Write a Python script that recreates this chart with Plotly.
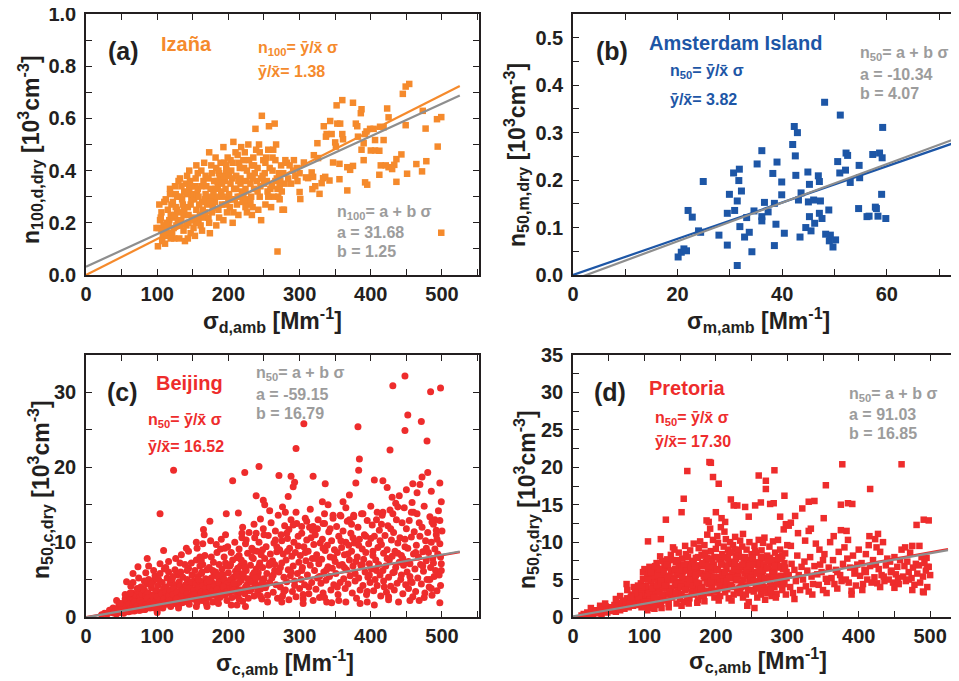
import plotly.graph_objects as go

# ---------------- data ----------------
# (a) Izaña : sigma_d,amb [Mm-1] vs n100,d,dry [10^3 cm-3]
izana_pts = [
 (102,0.18),(104,0.21),(101,0.11),(106,0.24),(108,0.15),(103,0.27),(109,0.19),(105,0.22),(107,0.13),(110,0.28),(99,0.18),
 (111,0.12),(113,0.17),(115,0.25),(112,0.29),(117,0.21),(118,0.33),(114,0.15),(119,0.23),(116,0.19),(120,0.27),(118,0.31),
 (121,0.16),(123,0.22),(125,0.34),(122,0.28),(127,0.19),(128,0.25),(124,0.14),(126,0.31),(129,0.21),(130,0.36),(126,0.26),(123,0.18),
 (131,0.14),(133,0.24),(135,0.29),(132,0.37),(137,0.17),(138,0.32),(134,0.21),(136,0.27),(139,0.13),(140,0.35),(137,0.23),(133,0.30),
 (141,0.19),(143,0.26),(145,0.33),(142,0.38),(147,0.16),(148,0.29),(144,0.23),(146,0.36),(149,0.21),(150,0.31),(143,0.14),(147,0.27),(145,0.40),
 (151,0.18),(153,0.34),(155,0.25),(152,0.29),(157,0.39),(158,0.21),(154,0.37),(156,0.31),(159,0.27),(160,0.23),(153,0.15),(157,0.33),(155,0.42),
 (161,0.19),(163,0.28),(165,0.36),(162,0.40),(167,0.24),(168,0.31),(164,0.22),(166,0.43),(169,0.34),(170,0.27),(163,0.17),(168,0.38),
 (171,0.29),(173,0.47),(175,0.33),(172,0.22),(177,0.39),(178,0.26),(174,0.16),(176,0.42),(179,0.31),(180,0.36),(173,0.20),(177,0.24),
 (181,0.28),(183,0.41),(185,0.34),(182,0.45),(187,0.22),(188,0.37),(184,0.30),(186,0.25),(189,0.43),(190,0.32),(183,0.19),(187,0.39),
 (191,0.27),(193,0.49),(195,0.36),(192,0.30),(197,0.42),(198,0.24),(194,0.38),(196,0.33),(199,0.45),(200,0.29),(193,0.21),(197,0.40),
 (201,0.31),(203,0.44),(205,0.37),(202,0.26),(207,0.51),(208,0.33),(204,0.40),(206,0.20),(209,0.29),(210,0.47),(203,0.35),(207,0.24),
 (211,0.38),(213,0.30),(215,0.43),(212,0.27),(217,0.35),(218,0.49),(214,0.23),(216,0.41),(219,0.32),(220,0.28),(213,0.46),(217,0.37),
 (221,0.31),(223,0.47),(225,0.36),(222,0.41),(227,0.27),(228,0.50),(224,0.33),(226,0.24),(229,0.44),(230,0.38),(223,0.29),
 (231,0.35),(233,0.42),(235,0.45),(232,0.30),(237,0.39),(238,0.56),(234,0.26),(236,0.33),(239,0.48),(240,0.36),(233,0.23),
 (241,0.41),(243,0.50),(245,0.34),(242,0.25),(247,0.61),(248,0.38),(244,0.30),(246,0.21),(249,0.44),(250,0.35),(244,0.47),
 (251,0.39),(253,0.45),(255,0.32),(252,0.27),(257,0.57),(258,0.41),(254,0.36),(256,0.48),(259,0.33),(260,0.26),
 (261,0.34),(263,0.48),(265,0.58),(262,0.40),(267,0.50),(268,0.37),(264,0.30),(266,0.44),(269,0.33),(270,0.30),
 (271,0.39),(273,0.36),(275,0.32),(272,0.29),(277,0.39),(278,0.25),(274,0.42),(276,0.25),(279,0.35),(280,0.44),
 (282,0.43),(286,0.42),(291,0.40),(294,0.38),(297,0.36),(300,0.39),(288,0.35),(284,0.37),(292,0.44),(296,0.41),(269,0.09),
 (125,0.23),(132,0.19),(138,0.25),(142,0.31),(148,0.34),(152,0.22),(158,0.30),(162,0.34),(167,0.29),(172,0.37),
 (176,0.30),(182,0.33),(186,0.40),(191,0.35),(196,0.27),(201,0.38),(206,0.43),(211,0.33),(216,0.30),(221,0.44),
 (226,0.40),(231,0.28),(236,0.42),(241,0.32),(246,0.37),(252,0.43),(256,0.30),(262,0.45),(266,0.36),(272,0.34),
 (128,0.30),(134,0.34),(144,0.20),(154,0.20),(164,0.25),(174,0.28),(184,0.36),(194,0.43),(204,0.29),(214,0.36),
 (224,0.26),(234,0.37),(119,0.14),(113,0.20),(106,0.17),
 (352,0.65),(360,0.67),(375,0.66),(386,0.62),(387,0.635),(334,0.57),(343,0.59),(353,0.58),(357,0.58),(360,0.54),(361,0.52),
 (338,0.54),(337,0.53),(345,0.54),(379,0.58),(381,0.57),(382,0.53),(394,0.55),(399,0.56),(404,0.56),(392,0.54),(390,0.505),
 (387,0.48),(390,0.44),(392,0.355),(395,0.346),(400,0.477),(406,0.477),(412,0.476),(406,0.517),(413,0.568),(418,0.566),
 (423,0.638),(425,0.604),(418,0.517),(414,0.42),(412,0.384),(421,0.42),(425,0.413),(430,0.406),(433,0.422),(436,0.444),
 (436,0.357),(443,0.462),(445,0.694),(449,0.722),(454,0.732),(449,0.574),(451,0.388),(464,0.425),(472,0.397),(473,0.629),
 (477,0.561),(478,0.436),(494,0.492),(493,0.597),(499,0.605),(499,0.162),(325,0.505),(333,0.371),(331,0.352),(336,0.376),
 (342,0.362),(347,0.431),(356,0.426),(356,0.367),(367,0.324),(367,0.413),(371,0.403),(375,0.418),(350,0.508),(351,0.492),
 (312,0.371),(319,0.376),(318,0.329),(322,0.34),(328,0.311),(320,0.459),(326,0.448),(306,0.431),(300,0.318),(301,0.291),
 (309,0.374),(317,0.393),
]
izana_ratio = 1.38          # y/x  [cm-3 per Mm-1]
izana_fit = (31.68, 1.25)   # a [cm-3], b

# (b) Amsterdam Island : sigma_m,amb vs n50,m,dry
amsterdam_pts = [
 (20.1,0.038),(20.7,0.048),(21.2,0.055),(21.7,0.051),(22.0,0.136),(22.8,0.122),(24.0,0.093),(24.4,0.090),(24.9,0.197),
 (27.9,0.084),(29.5,0.063),(29.5,0.130),(29.9,0.170),(30.7,0.215),(30.9,0.136),(31.4,0.156),(31.4,0.020),(31.7,0.199),
 (31.8,0.223),(31.9,0.102),(32.2,0.177),(32.8,0.080),(33.2,0.121),(33.7,0.090),(34.2,0.049),(34.6,0.135),(35.2,0.234),
 (36.1,0.262),(36.1,0.123),(36.1,0.114),(36.6,0.153),(37.3,0.133),(38.2,0.214),(38.5,0.151),(38.5,0.062),(38.8,0.107),
 (39.0,0.238),(39.9,0.196),(39.9,0.169),(40.4,0.088),(42.0,0.275),(42.3,0.313),(42.5,0.251),(42.6,0.210),(42.9,0.300),
 (43.1,0.158),(43.4,0.080),(43.6,0.173),(44.5,0.100),(44.9,0.217),(45.0,0.154),(45.2,0.191),(45.2,0.123),(45.5,0.093),
 (46.0,0.158),(46.2,0.109),(46.9,0.209),(47.1,0.197),(47.1,0.130),(47.3,0.156),(47.6,0.119),(48.1,0.364),(48.3,0.086),
 (48.9,0.137),(49.0,0.072),(49.2,0.084),(49.7,0.059),(50.2,0.074),(50.6,0.239),(51.1,0.337),(51.0,0.215),(52.1,0.221),
 (52.2,0.257),(52.5,0.252),(53.0,0.195),(54.6,0.140),(54.7,0.231),(54.8,0.205),(56.2,0.123),(56.6,0.124),(57.3,0.254),
 (57.8,0.143),(58.0,0.140),(58.3,0.124),(58.6,0.257),(59.0,0.170),(59.1,0.247),(59.2,0.311),(59.8,0.119),
]
amsterdam_ratio = 3.82
amsterdam_fit = (-10.34, 4.07)

# (c) Beijing : sigma_c,amb vs n50,c,dry
beijing_pts = [
 (22,0.3),(26,0.5),(30,0.4),(33,0.9),(36,0.6),(38,1.2),(40,0.5),(42,1.0),(44,0.8),(46,1.5),(48,0.6),(49,1.1),
 (51,0.9),(52,1.8),(53,0.5),(54,1.3),(55,2.4),(56,0.8),(57,1.6),(58,1.1),(59,2.0),(60,0.7),
 (61,1.4),(62,2.6),(63,0.9),(64,1.9),(65,3.2),(66,1.2),(67,2.3),(68,0.8),(69,1.6),(70,2.9),(66,4.6),(63,4.1),
 (71,1.1),(72,2.0),(73,3.4),(74,1.5),(75,2.6),(76,0.9),(77,4.0),(78,1.8),(79,3.0),(80,1.3),(74,5.2),
 (81,2.2),(82,3.6),(83,1.0),(84,2.8),(85,4.4),(86,1.6),(87,3.2),(88,5.0),(89,2.0),(90,1.2),(88,6.8),(84,5.9),
 (91,2.6),(92,3.9),(93,1.4),(94,4.8),(95,3.0),(96,1.9),(97,5.5),(98,2.3),(99,3.5),(100,1.0),(95,6.2),
 (101,4.2),(102,2.8),(103,1.5),(104,5.8),(105,3.3),(106,2.1),(107,4.6),(108,1.2),(109,3.8),(110,6.4),(104,7.1),
 (111,2.5),(112,4.0),(113,1.7),(114,5.2),(115,3.1),(116,6.0),(117,2.0),(118,4.5),(119,1.4),(120,3.6),(116,7.4),
 (121,5.0),(122,2.7),(123,3.9),(124,1.8),(125,6.3),(126,4.3),(127,2.3),(128,5.6),(129,3.2),(130,1.5),(126,7.8),
 (131,4.7),(132,2.5),(133,6.0),(134,3.5),(135,1.9),(136,5.3),(137,4.0),(138,2.9),(139,7.0),(140,3.3),(134,8.3),
 (141,2.2),(142,5.0),(143,3.8),(144,6.5),(145,1.7),(146,4.4),(147,2.9),(148,7.2),(149,5.6),(150,3.6),(144,8.8),
 (151,2.4),(152,4.8),(153,6.2),(154,3.2),(155,7.6),(156,1.9),(157,5.4),(158,4.1),(159,2.8),(160,6.8),(156,9.2),
 (161,3.6),(162,5.8),(163,2.2),(164,7.0),(165,4.5),(166,3.0),(167,8.2),(168,5.1),(169,1.8),(170,6.3),(164,9.8),
 (171,4.0),(172,2.6),(173,6.6),(174,5.0),(175,3.4),(176,8.0),(177,4.6),(178,2.0),(179,7.3),(180,5.7),(175,10.2),
 (181,3.2),(182,6.0),(183,4.3),(184,8.6),(185,2.5),(186,5.3),(187,7.0),(188,3.8),(189,9.1),(190,4.8),(186,1.8),
 (191,6.4),(192,2.9),(193,5.6),(194,8.0),(195,3.6),(196,7.2),(197,4.4),(198,2.2),(199,9.4),(200,5.9),(196,11.0),
 (201,3.3),(202,6.8),(203,4.9),(204,8.6),(205,2.6),(206,7.6),(207,5.3),(208,3.9),(209,10.0),(210,6.1),(204,1.6),
 (211,4.2),(212,7.9),(213,2.8),(214,5.9),(215,9.1),(216,3.6),(217,6.8),(218,4.9),(219,10.6),(220,2.1),(215,8.2),
 (221,5.4),(222,7.2),(223,3.1),(224,9.8),(225,6.2),(226,4.3),(227,8.5),(228,2.5),(229,11.3),(230,5.0),(224,1.4),
 (231,6.9),(232,3.7),(233,9.2),(234,5.6),(235,7.8),(236,2.8),(237,10.6),(238,4.5),(239,6.4),(240,8.8),(236,12.4),
 (241,3.4),(242,5.9),(243,10.0),(244,7.2),(245,4.1),(246,8.3),(247,2.4),(248,6.6),(249,11.8),(250,5.1),(245,13.1),
 (251,7.8),(252,3.9),(253,9.4),(254,5.8),(255,2.9),(256,10.9),(257,6.9),(258,4.6),(259,8.4),(260,12.6),(255,2.0),
 (261,5.2),(262,7.5),(263,3.3),(264,9.9),(265,6.2),(266,11.5),(267,4.3),(268,8.7),(269,2.5),(270,13.6),(265,7.0),
 (271,6.0),(272,9.0),(273,4.0),(274,11.0),(275,7.2),(276,2.8),(277,8.4),(278,5.3),(279,12.2),(280,3.6),(275,10.2),
 (281,7.6),(282,4.7),(283,10.5),(284,6.3),(285,2.3),(286,9.2),(287,5.5),(288,13.0),(289,8.1),(290,3.4),(285,11.7),
 (291,6.8),(292,10.0),(293,4.2),(294,8.6),(295,2.7),(296,12.5),(297,5.8),(298,9.5),(299,7.3),(300,3.8),(295,14.0),
 (301,8.2),(302,5.0),(303,11.2),(304,6.6),(305,2.4),(306,9.4),(307,4.3),(308,13.2),(309,7.5),(310,10.3),(305,1.8),
 (311,5.6),(312,8.8),(313,3.1),(314,12.0),(315,6.9),(316,10.6),(317,4.6),(318,7.8),(319,2.2),(320,9.7),(315,14.4),
 (321,6.2),(322,11.0),(323,3.7),(324,8.3),(325,5.2),(326,13.0),(327,7.1),(328,2.6),(329,9.9),(330,4.5),(325,11.8),
 (331,7.7),(332,10.4),(333,3.2),(334,6.0),(335,12.5),(336,8.9),(337,4.9),(338,2.0),(339,9.6),(340,6.7),(335,13.8),
 (341,11.4),(342,5.4),(343,8.0),(344,3.6),(345,10.2),(346,6.5),(347,13.2),(348,4.3),(349,9.0),(350,7.4),(345,1.9),
 (351,5.8),(352,12.1),(353,8.6),(354,3.0),(355,10.8),(356,6.9),(357,4.6),(358,13.5),(359,9.3),(360,7.0),(355,2.2),
 (361,11.5),(362,5.1),(363,8.3),(364,3.8),(365,10.0),(366,6.3),(367,12.8),(368,4.4),(369,9.6),(370,7.6),(365,14.6),
 (371,5.5),(372,11.2),(373,8.8),(374,3.2),(375,6.8),(376,13.4),(377,9.9),(378,4.8),(379,7.4),(380,2.5),(375,10.6),
 (381,8.0),(382,12.0),(383,5.2),(384,10.4),(385,3.6),(386,6.9),(387,13.8),(388,9.1),(389,4.2),(390,7.7),(385,1.8),
 (391,11.0),(392,6.0),(393,8.6),(394,3.0),(395,12.9),(396,5.3),(397,9.8),(398,7.1),(399,4.6),(400,10.5),(395,2.0),
 (401,6.4),(402,12.3),(403,8.2),(404,3.5),(405,10.8),(406,5.0),(407,7.6),(408,13.0),(409,4.2),(410,9.3),(405,1.6),
 (411,7.0),(412,11.6),(413,5.6),(414,2.8),(415,9.7),(416,13.6),(417,6.2),(418,8.5),(419,4.0),(420,10.9),(415,12.4),
 (421,6.8),(422,3.3),(423,9.0),(424,12.2),(425,5.3),(426,7.6),(427,14.3),(428,4.1),(429,10.3),(430,8.1),(425,2.3),
 (431,5.9),(432,11.3),(433,3.6),(434,8.8),(435,6.6),(436,13.0),(437,4.5),(438,9.9),(439,2.0),(440,7.3),(435,15.2),
 (441,10.6),(442,5.0),(443,8.2),(444,12.6),(445,3.1),(446,6.9),(447,14.6),(448,9.4),(449,4.3),(450,11.8),(445,7.8),
 (451,6.0),(452,9.2),(453,3.8),(454,12.9),(455,7.1),(456,4.8),(457,10.7),(458,15.3),(459,2.7),(460,8.4),(455,5.4),
 (461,11.4),(462,6.4),(463,3.4),(464,9.6),(465,13.8),(466,5.2),(467,8.0),(468,2.2),(469,10.8),(470,7.0),(465,16.6),
 (471,4.4),(472,12.0),(473,8.7),(474,6.1),(475,14.8),(476,3.2),(477,10.2),(478,7.5),(479,5.0),(480,11.3),(475,2.6),
 (481,8.6),(482,4.0),(483,13.4),(484,6.6),(485,10.0),(486,2.9),(487,7.8),(488,12.4),(489,5.4),(490,9.1),(485,16.8),
 (491,6.2),(492,11.0),(493,3.5),(494,8.4),(495,14.2),(496,5.6),(497,9.8),(498,4.2),(499,7.1),(500,11.5),(497,1.9),(499,6.2),
 (40,0.7),(43,0.4),(45,1.0),(47,0.8),(50,1.2),(52,0.6),(54,1.0),(56,1.4),(58,0.9),(60,1.7),
 (62,1.1),(64,0.8),(66,1.5),(68,2.0),(70,1.2),(72,1.6),(74,0.9),(76,2.2),(78,1.4),(80,1.9),
 (82,1.0),(84,1.6),(86,2.5),(88,1.3),(90,2.0),(92,1.6),(94,2.8),(96,1.2),(98,2.1),(100,2.7),
 (102,1.7),(104,2.3),(106,3.1),(108,1.9),(110,2.5),(112,3.3),(114,2.0),(116,2.8),(118,3.6),(120,2.2),
 (122,3.0),(124,3.8),(126,2.1),(128,3.3),(130,2.6),(132,4.1),(134,2.9),(136,3.6),(138,2.2),(140,4.3),
 (142,3.1),(144,2.5),(146,3.9),(148,4.7),(150,2.9),(152,3.6),(154,4.4),(156,2.7),(158,3.9),(160,4.8),
 (162,3.3),(164,4.2),(166,2.6),(168,3.8),(170,4.6),(172,3.1),(174,4.0),(176,5.2),(178,3.5),(180,4.3),
 (182,2.9),(184,3.7),(186,4.6),(188,5.6),(190,3.4),(192,4.1),(194,5.0),(196,3.0),(198,4.4),(200,3.8),
 (203,5.0),(206,4.2),(209,3.4),(212,5.4),(215,4.6),(218,3.6),(221,5.8),(224,4.0),(227,5.1),(230,3.5),
 (233,4.7),(236,5.9),(239,4.2),(242,5.3),(245,3.7),(248,4.8),(212,1.6),(170,1.4),(130,1.2),(100,0.6),
 (152,3.0),(158,5.0),(163,6.0),(168,3.2),(173,4.8),(178,6.2),(183,5.5),(188,2.6),(193,4.0),(198,6.8),
 (203,7.0),(208,4.5),(213,6.5),(218,7.6),(223,6.6),(228,3.8),(233,8.0),(238,5.2),(243,6.8),(248,9.0),
 (253,4.2),(258,7.2),(263,5.6),(268,9.4),(273,6.6),(278,3.4),(283,8.8),(288,6.0),(293,4.8),(298,10.8),
 (303,6.2),(308,8.6),(313,4.0),(318,11.6),(323,7.8),(328,5.4),(333,9.2),(338,6.3),(343,11.8),(348,7.9),
 (353,4.0),(358,10.2),(363,6.6),(368,8.4),(373,12.4),(378,5.8),(383,9.6),(388,7.0),(393,10.8),(398,5.6),
 (403,8.8),(408,6.2),(413,10.2),(418,4.8),(423,7.8),(428,11.8),(433,6.0),(438,8.5),(443,5.6),(448,10.4),
 (453,7.4),(458,4.6),(463,8.6),(468,12.6),(473,6.8),(478,9.2),(483,5.0),(488,7.2),(493,10.4),(498,8.0),
 (155,1.4),(185,2.0),(215,2.4),(245,2.8),(275,2.0),(305,3.0),(335,2.6),(365,2.0),(395,3.4),(425,2.7),(455,2.2),(485,3.8),
 (160,8.0),(190,10.4),(220,12.0),(250,11.0),(280,14.0),(310,12.8),(340,15.0),(370,13.0),(400,14.8),(430,16.0),(460,14.0),(490,13.0),
 (142,6.2),(132,7.2),(122,5.4),(112,6.6),(102,5.0),(92,4.4),(82,4.8),(72,3.8),(62,3.2),(55,3.0),
 (57,0.8),(67,1.0),(77,1.2),(87,1.4),(97,1.6),(107,1.8),(117,2.2),(127,2.4),(137,2.0),(147,2.6),
 (157,2.2),(167,2.6),(177,2.9),(187,3.1),(197,3.3),(207,3.6),(217,3.3),(227,3.9),(237,4.1),(247,4.4),
 (448,32.2),(431,30.9),(484,30.1),(498,30.6),(306,25.8),(452,27.0),(448,24.9),(471,26.1),(479,23.5),(427,22.3),
 (382,25.4),(295,22.5),(384,21.1),(123,19.6),(223,19.3),(243,20.1),(271,18.9),(288,18.8),(319,18.8),(383,19.6),
 (480,19.3),(104,13.8),(109,8.9),(174,12.8),(165,11.7),(166,11.0),(206,18.2),(197,13.8),(214,13.9),(239,16.2),
 (249,15.6),(251,15.0),(258,14.2),(276,14.7),(284,16.1),(291,17.4),(293,18.0),(336,17.8),(332,15.4),(370,16.3),
 (361,15.4),(379,17.9),(405,18.3),(417,18.2),(423,17.3),(440,16.2),(450,17.0),(459,17.8),(469,17.7),(472,18.7),
 (497,17.9),(499,15.4),(497,12.9),(492,11.6),(486,12.7),(438,14.7),(457,14.0),(431,13.8),(417,14.0),(409,14.0),
 (389,13.8),(376,13.6),(357,13.6),(347,13.6),(333,12.5),(319,12.1),(303,12.1),(291,12.3),(282,11.2),(266,10.3),
 (239,11.2),(225,10.3),(219,11.2),(235,8.9),(183,9.7),(195,9.2),(155,10.0),(162,7.6),(141,9.2),(86,7.8),
 (73,6.7),(66,5.8),(57,4.7),(43,2.2),(48,1.8),
]
beijing_ratio = 16.52
beijing_fit = (-59.15, 16.79)

# (d) Pretoria : sigma_c,amb vs n50,c,dry
pretoria_pts = [
 (12,0.2),(15,0.4),(18,0.3),(20,0.6),(22,0.2),(24,0.5),(26,0.8),(28,0.4),(30,0.6),(25,1.2),
 (32,0.9),(34,0.5),(36,0.7),(38,1.2),(40,0.4),(42,0.8),(44,1.0),(46,1.4),(48,0.6),(50,1.1),(38,1.5),(45,1.8),
 (52,0.8),(54,1.3),(56,1.0),(58,1.6),(60,0.7),(62,1.2),(64,1.9),(66,0.9),(68,1.5),(70,2.2),(60,2.4),(66,2.8),
 (72,1.1),(74,1.7),(76,2.5),(78,1.3),(80,2.0),(82,3.0),(84,1.5),(86,2.4),(88,1.8),(90,3.4),(76,3.6),(75,4.4),(85,4.0),
 (91,1.6),(92,2.6),(93,3.8),(94,2.1),(95,4.5),(96,1.3),(97,3.0),(98,5.1),(99,2.4),(100,3.5),(100,6.4),(98,6.0),
 (101,1.5),(102,2.8),(103,4.2),(104,5.6),(105,2.2),(106,3.6),(107,6.7),(108,1.2),(109,4.8),(110,3.1),(104,0.9),(106,5.9),(108,2.4),(110,5.2),
 (111,2.0),(112,4.1),(113,6.2),(114,3.0),(115,5.0),(116,1.6),(117,7.2),(118,3.6),(119,4.6),(120,2.5),(112,5.5),(114,1.1),(118,6.6),(120,4.0),
 (121,3.3),(122,5.9),(123,1.9),(124,4.4),(125,7.5),(126,2.7),(127,5.2),(128,3.8),(129,6.6),(130,2.2),(122,8.1),(124,1.2),(126,4.9),(128,7.0),
 (131,4.6),(132,3.0),(133,6.9),(134,1.8),(135,5.5),(136,3.9),(137,8.3),(138,2.6),(139,4.9),(140,6.2),(132,7.7),(134,1.3),(136,5.1),(138,3.4),(140,9.3),
 (141,2.9),(142,5.3),(143,4.1),(144,7.3),(145,1.8),(146,6.0),(147,3.5),(148,8.6),(149,4.7),(150,2.4),(142,9.0),(144,3.2),(146,5.6),(148,6.8),
 (151,5.8),(152,3.1),(153,7.8),(154,4.4),(155,2.0),(156,6.5),(157,9.5),(158,3.8),(159,5.1),(160,7.1),(152,1.5),(154,6.1),(156,4.7),(158,8.4),(160,2.7),
 (161,4.3),(162,6.7),(163,2.5),(164,8.9),(165,5.4),(166,3.4),(167,7.5),(168,4.8),(169,9.8),(170,3.0),(162,1.8),(164,5.9),(166,7.0),(168,3.9),(170,6.2),
 (171,5.1),(172,7.9),(173,3.6),(174,6.3),(175,2.3),(176,9.2),(177,4.5),(178,6.9),(179,3.1),(180,8.3),(172,5.6),(174,1.9),(176,4.0),(178,10.1),(180,5.9),
 (181,4.0),(182,6.8),(183,2.8),(184,9.6),(185,5.2),(186,7.4),(187,3.5),(188,11.0),(189,6.0),(190,4.4),(182,8.2),(184,2.1),(186,5.7),(188,7.9),(190,12.7),
 (191,5.6),(192,3.2),(193,8.8),(194,6.2),(195,4.1),(196,10.3),(197,7.0),(198,2.6),(199,5.0),(200,9.1),(192,11.8),(194,3.8),(196,6.6),(198,8.0),(200,4.6),
 (201,6.3),(202,3.5),(203,9.9),(204,5.4),(205,7.7),(206,2.8),(207,12.0),(208,4.6),(209,8.4),(210,6.0),(202,10.8),(204,2.2),(206,5.0),(208,7.2),(210,3.9),
 (211,5.2),(212,8.0),(213,3.3),(214,10.4),(215,6.4),(216,4.2),(217,9.0),(218,2.5),(219,7.1),(220,5.5),(212,11.4),(214,6.9),(216,3.7),(218,8.6),(220,10.0),
 (221,4.3),(222,7.4),(223,5.9),(224,9.6),(225,3.0),(226,6.7),(227,10.7),(228,4.9),(229,8.2),(230,6.1),(222,2.2),(224,5.2),(226,9.0),(228,7.8),(230,3.6),
 (231,5.4),(232,8.6),(233,3.9),(234,10.2),(235,6.6),(236,4.6),(237,9.4),(238,2.6),(239,7.3),(240,5.8),(232,6.2),(234,3.2),(236,8.0),(238,11.1),(240,4.2),
 (241,6.8),(242,4.1),(243,9.0),(244,5.5),(245,7.6),(246,2.0),(247,10.0),(248,4.8),(249,6.3),(250,8.4),(242,3.0),(244,1.5),(246,5.9),(248,7.1),(250,3.6),
 (251,5.1),(252,7.9),(253,3.4),(254,9.5),(255,6.0),(256,4.3),(257,8.6),(258,2.6),(259,6.9),(260,10.3),(252,5.6),(254,1.2),(256,7.3),(258,4.0),
 (261,4.7),(262,7.2),(263,3.0),(264,8.9),(265,5.6),(266,9.9),(267,4.0),(268,6.5),(269,2.3),(270,7.8),(262,5.3),(264,3.5),(266,6.2),(268,10.6),
 (271,5.0),(272,8.2),(273,3.8),(274,6.5),(275,9.4),(276,4.6),(277,7.2),(278,2.8),(279,5.9),(280,10.1),(272,3.2),(274,5.4),(276,7.9),(278,4.2),
 (281,6.2),(282,4.0),(283,8.6),(284,5.3),(285,3.1),(286,7.3),(287,10.3),(288,4.7),(289,6.6),(290,9.0),(282,5.8),(284,2.6),(286,4.4),(288,8.0),
 (291,5.5),(292,7.8),(293,3.6),(294,6.4),(295,11.7),(296,4.8),(297,8.5),(298,3.0),(299,6.0),(300,9.6),(292,4.3),(294,5.1),(296,7.2),(298,12.4),
 (101,4.0),(103,2.0),(105,5.0),(107,3.2),(109,6.0),(111,3.8),(113,2.6),(115,6.8),(117,4.2),(119,5.6),
 (121,6.4),(123,4.8),(125,3.0),(127,6.0),(129,4.2),(131,7.0),(133,5.2),(135,3.4),(137,6.2),(139,7.6),
 (141,5.0),(143,6.4),(145,4.4),(147,7.6),(149,6.0),(151,4.0),(153,5.4),(155,7.0),(157,3.6),(159,6.2),
 (161,8.0),(163,5.0),(165,6.6),(167,4.2),(169,7.2),(171,6.8),(173,4.6),(175,8.0),(177,5.8),(179,3.8),
 (181,7.2),(183,5.4),(185,8.6),(187,4.6),(189,6.8),(191,7.8),(193,4.8),(195,7.4),(197,5.4),(199,3.4),
 (201,8.0),(203,6.4),(205,4.2),(207,7.0),(209,5.6),(211,9.4),(213,6.0),(215,4.8),(217,7.8),(219,5.2),
 (221,8.6),(223,4.0),(225,6.4),(227,7.2),(229,5.0),(231,9.0),(233,6.8),(235,4.0),(237,7.0),(239,5.0),
 (241,8.0),(243,6.2),(245,3.6),(247,6.8),(249,5.2),(251,7.0),(253,4.8),(255,8.8),(257,5.8),(259,3.8),
 (261,6.2),(263,8.0),(265,4.4),(267,7.0),(269,5.2),(271,6.6),(273,7.4),(275,5.0),(277,3.6),(279,7.6),
 (281,5.2),(283,6.8),(285,4.8),(287,7.8),(289,5.4),(291,6.8),(293,8.2),(295,4.4),(297,6.6),(299,5.2),
 (95,3.2),(97,4.0),(99,2.0),(93,2.8),(91,4.2),(89,2.6),(87,3.2),(83,2.2),(81,2.7),(79,1.8),
 (302,5.6),(304,4.0),(306,7.1),(308,3.2),(310,6.3),(312,4.8),(314,8.2),(316,5.6),(318,3.6),(320,6.7),(305,9.5),(315,11.2),(310,2.4),
 (322,5.0),(324,7.4),(326,4.1),(328,6.2),(330,3.4),(332,8.0),(334,5.4),(336,4.4),(338,6.8),(340,9.8),(325,10.2),(335,3.0),(330,11.5),
 (342,5.7),(344,4.3),(346,7.0),(348,6.0),(350,3.6),(352,8.4),(354,5.1),(356,4.7),(358,6.6),(360,10.0),(345,9.0),(355,3.2),(350,7.6),
 (362,5.2),(364,7.6),(366,4.4),(368,6.3),(370,3.8),(372,8.7),(374,5.6),(376,4.8),(378,7.1),(380,9.3),(365,10.8),(375,11.6),(370,6.0),
 (382,5.0),(384,7.8),(386,4.6),(388,6.6),(390,3.5),(392,8.2),(394,5.8),(396,4.2),(398,7.0),(400,9.0),(385,10.3),(395,6.3),(390,3.0),
 (402,5.5),(404,7.2),(406,4.4),(408,6.3),(410,8.4),(412,5.0),(414,9.6),(416,6.8),(418,4.6),(420,7.6),(405,3.6),(415,10.8),(410,6.0),
 (422,5.3),(424,7.0),(426,4.5),(428,6.4),(430,8.7),(432,5.6),(434,10.0),(436,4.8),(438,6.9),(440,7.8),(425,9.3),(435,5.4),(430,4.0),
 (442,5.0),(444,7.4),(446,6.2),(448,4.6),(450,8.0),(452,5.7),(454,6.7),(456,4.4),(458,7.6),(460,9.0),(445,6.0),(455,5.2),(450,3.9),
 (462,5.4),(464,6.8),(466,4.8),(468,7.4),(470,6.0),(472,8.6),(474,5.2),(476,6.6),(478,4.3),(480,7.1),(465,9.3),(475,3.6),(470,5.0),
 (482,5.8),(484,6.9),(486,4.6),(488,8.0),(490,5.4),(492,7.2),(494,6.2),(496,4.0),(498,6.7),(500,5.6),(485,9.5),(495,7.9),(490,3.4),
 (191,20.7),(193,20.6),(160,19.5),(196,18.7),(204,17.8),(260,18.9),(270,18.2),(270,17.1),(282,19.6),(377,20.4),
 (460,20.4),(354,17.6),(416,17.1),(155,15.8),(152,14.0),(130,13.0),(105,10.1),(123,10.4),(221,15.7),(225,14.9),
 (230,14.9),(241,14.7),(255,14.9),(263,15.3),(276,15.1),(281,15.2),(296,16.2),(321,14.5),(330,15.4),(338,15.5),
 (375,15.0),(385,15.2),(391,15.1),(481,12.3),(491,13.0),(498,12.9),(351,13.2),(305,12.6),(302,12.2),(311,13.5),
 (290,13.4),(187,12.9),(208,13.2),(213,12.7),(200,14.0),(246,13.4),(333,11.8),(383,11.5),(427,11.1),(423,10.4),
 (475,9.5),(496,6.7),(491,3.3),
]
pretoria_ratio = 17.30
pretoria_fit = (91.03, 16.85)

# ---------------- styling ----------------
W, H = 959, 681
ORANGE, BLUE, RED = "#F58A2C", "#1D56A6", "#EE2C2C"
GRAY_TXT, GRAY_LINE, DARK = "#9C9C9C", "#8E8E8E", "#231F20"
FONT = "Liberation Sans"

# target screen pixel -> paper fraction (page body adds an 8 px offset)
OFF = 8.0
def px(x): return (x - OFF) / W
def py(y): return 1 - (y - OFF) / H

panels = [
    dict(pts=izana_pts, color=ORANGE, symbol="square", size=6.5, ratio=izana_ratio, fit=izana_fit,
         xd=(86, 479), yd=(14, 275), xr=[0, 552], yr=[0, 1.0], xdt=100, ydt=0.2, fmt=".1f", xend=525),
    dict(pts=amsterdam_pts, color=BLUE, symbol="square", size=7, ratio=amsterdam_ratio, fit=amsterdam_fit,
         xd=(573, 958), yd=(14, 275), xr=[0, 73.6], yr=[0, 0.55], xdt=20, ydt=0.1, fmt=".1f", xend=73.6),
    dict(pts=beijing_pts, color=RED, symbol="circle", size=7, ratio=beijing_ratio, fit=beijing_fit,
         xd=(86, 479), yd=(355, 617), xr=[0, 552], yr=[0, 35], xdt=100, ydt=10, fmt="d", xend=525),
    dict(pts=pretoria_pts, color=RED, symbol="square", size=6.5, ratio=pretoria_ratio, fit=pretoria_fit,
         xd=(573, 958), yd=(355, 617), xr=[0, 539], yr=[0, 35], xdt=100, ydt=5, fmt="d", xend=525),
]

fig = go.Figure()
layout = dict(width=W, height=H, autosize=False,
              margin=dict(l=0, r=0, t=0, b=0, pad=0, autoexpand=False), showlegend=False,
              plot_bgcolor="white", paper_bgcolor="white",
              font=dict(family=FONT, color=DARK))

for i, p in enumerate(panels):
    n = "" if i == 0 else str(i + 1)
    xs = [q[0] for q in p["pts"]]
    ys = [q[1] for q in p["pts"]]
    fig.add_trace(go.Scatter(x=xs, y=ys, mode="markers", xaxis="x" + n, yaxis="y" + n,
                             marker=dict(color=p["color"], symbol=p["symbol"], size=p["size"], line=dict(width=0)),
                             hoverinfo="skip"))
    a, b = p["fit"]
    lx = [0, p["xend"]]
    fig.add_trace(go.Scatter(x=lx, y=[p["ratio"] * v / 1000 for v in lx], mode="lines",
                             xaxis="x" + n, yaxis="y" + n, line=dict(color=p["color"], width=2.2)))
    fig.add_trace(go.Scatter(x=lx, y=[(a + b * v) / 1000 for v in lx], mode="lines",
                             xaxis="x" + n, yaxis="y" + n, line=dict(color=GRAY_LINE, width=2.2)))
    common = dict(showline=True, linecolor=DARK, linewidth=1.5, mirror="allticks", ticks="inside",
                  ticklen=6, tickwidth=1.3, tickcolor=DARK, showgrid=False, zeroline=False, automargin=False,
                  ticklabeloverflow="allow",
                  tickfont=dict(family=FONT, size=20, color=DARK, weight="bold"))
    layout["xaxis" + n] = dict(common, domain=[px(p["xd"][0]), px(p["xd"][1])], range=p["xr"],
                               dtick=p["xdt"], tick0=0, anchor="y" + n,
                               minor=dict(dtick=p["xdt"] / 2, ticks="inside", ticklen=6, tickwidth=1.3, tickcolor=DARK))
    layout["yaxis" + n] = dict(common, domain=[py(p["yd"][1]), py(p["yd"][0])], range=p["yr"],
                               dtick=p["ydt"], tick0=0, tickformat=p["fmt"], anchor="x" + n, ticklabelstandoff=4,
                               minor=dict(dtick=p["ydt"] / 2, ticks="inside", ticklen=6, tickwidth=1.3, tickcolor=DARK))
fig.update_layout(**layout)

def ann(text, x, y, size, color, xanchor="left", angle=0):
    fig.add_annotation(text=text, x=px(x), y=py(y), xref="paper", yref="paper", showarrow=False,
                       xanchor=xanchor, yanchor="middle", textangle=angle,
                       font=dict(family=FONT, size=size, color=color))

YB = "y\u0304"
XB = "x\u0304"
ratio_txt = "<b>%s/%s= %.2f</b>"
# (a)
ann("<b>(a)</b>", 106, 51, 25, DARK)
ann("<b>Izaña</b>", 159, 44, 20, ORANGE)
ann("<b>n<sub>100</sub>= %s/%s σ</b>" % (YB, XB), 256, 48, 16, ORANGE)
ann(ratio_txt % (YB, XB, izana_ratio), 256, 71, 16, ORANGE)
ann("<b>n<sub>100</sub>= a + b σ</b>", 335, 212, 16, GRAY_TXT)
ann("<b>a = %.2f</b>" % izana_fit[0], 335, 232, 16, GRAY_TXT)
ann("<b>b = %.2f</b>" % izana_fit[1], 335, 251, 16, GRAY_TXT)
ann("<b>n<sub>100,d,dry</sub> [10<sup>3</sup>cm<sup>-3</sup>]</b>", 30, 150, 23, DARK, "center", -90)
ann("<b>σ<sub>d,amb</sub> [Mm<sup>-1</sup>]</b>", 272, 320, 23, DARK, "center")
# (b)
ann("<b>(b)</b>", 594, 51, 25, DARK)
ann("<b>Amsterdam Island</b>", 647, 43, 20, BLUE)
ann("<b>n<sub>50</sub>= %s/%s σ</b>" % (YB, XB), 668, 72, 16, BLUE)
ann(ratio_txt % (YB, XB, amsterdam_ratio), 668, 99, 16, BLUE)
ann("<b>n<sub>50</sub>= a + b σ</b>", 858, 54, 16, GRAY_TXT)
ann("<b>a = %.2f</b>" % amsterdam_fit[0], 858, 75, 16, GRAY_TXT)
ann("<b>b = %.2f</b>" % amsterdam_fit[1], 858, 94, 16, GRAY_TXT)
ann("<b>n<sub>50,m,dry</sub> [10<sup>3</sup>cm<sup>-3</sup>]</b>", 516, 155, 23, DARK, "center", -90)
ann("<b>σ<sub>m,amb</sub> [Mm<sup>-1</sup>]</b>", 758, 320, 23, DARK, "center")
# (c)
ann("<b>(c)</b>", 105, 392, 25, DARK)
ann("<b>Beijing</b>", 154, 383, 20, RED)
ann("<b>n<sub>50</sub>= %s/%s σ</b>" % (YB, XB), 146, 420, 16, RED)
ann(ratio_txt % (YB, XB, beijing_ratio), 146, 446, 16, RED)
ann("<b>n<sub>50</sub>= a + b σ</b>", 254, 374, 16, GRAY_TXT)
ann("<b>a = %.2f</b>" % beijing_fit[0], 254, 394, 16, GRAY_TXT)
ann("<b>b = %.2f</b>" % beijing_fit[1], 254, 413, 16, GRAY_TXT)
ann("<b>n<sub>50,c,dry</sub> [10<sup>3</sup>cm<sup>-3</sup>]</b>", 40, 490, 23, DARK, "center", -90)
ann("<b>σ<sub>c,amb</sub> [Mm<sup>-1</sup>]</b>", 285, 662, 23, DARK, "center")
# (d)
ann("<b>(d)</b>", 592, 392, 25, DARK)
ann("<b>Pretoria</b>", 647, 388, 20, RED)
ann("<b>n<sub>50</sub>= %s/%s σ</b>" % (YB, XB), 653, 418, 16, RED)
ann(ratio_txt % (YB, XB, pretoria_ratio), 653, 442, 16, RED)
ann("<b>n<sub>50</sub>= a + b σ</b>", 847, 394, 16, GRAY_TXT)
ann("<b>a = %.2f</b>" % pretoria_fit[0], 847, 414, 16, GRAY_TXT)
ann("<b>b = %.2f</b>" % pretoria_fit[1], 847, 433, 16, GRAY_TXT)
ann("<b>n<sub>50,c,dry</sub> [10<sup>3</sup>cm<sup>-3</sup>]</b>", 526, 500, 23, DARK, "center", -90)
ann("<b>σ<sub>c,amb</sub> [Mm<sup>-1</sup>]</b>", 758, 660, 23, DARK, "center")

fig.write_html("out.html")
